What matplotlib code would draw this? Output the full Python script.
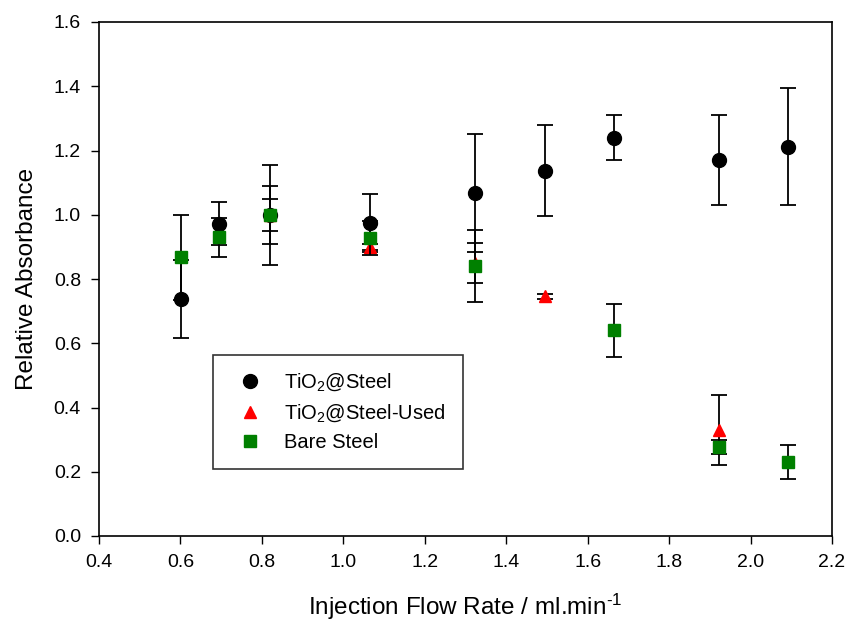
import matplotlib
matplotlib.use("Agg")
import matplotlib.pyplot as plt
from matplotlib.lines import Line2D
from matplotlib.ticker import FormatStrFormatter

plt.rcParams['font.family'] = ['Liberation Sans', 'DejaVu Sans']
plt.rcParams['mathtext.fontset'] = 'custom'
plt.rcParams['mathtext.rm'] = 'Liberation Sans'
plt.rcParams['mathtext.it'] = 'Liberation Sans'
plt.rcParams['mathtext.bf'] = 'Liberation Sans:bold'

# TiO2@Steel
x_tio2 = [0.601, 0.695, 0.820, 1.066, 1.324, 1.496, 1.665, 1.923, 2.093]
y_tio2 = [0.738, 0.972, 1.000, 0.975, 1.067, 1.137, 1.240, 1.171, 1.212]
e_tio2 = [0.121, 0.067, 0.155, 0.090, 0.183, 0.142, 0.070, 0.141, 0.181]

# TiO2@Steel-Used
x_used = [0.820, 1.066, 1.324, 1.496, 1.923]
y_used = [1.000, 0.900, 0.851, 0.746, 0.330]
e_used = [0.050, 0.010, 0.062, 0.007, 0.108]

# Bare Steel
x_bare = [0.601, 0.695, 0.820, 1.066, 1.324, 1.665, 1.923, 2.093]
y_bare = [0.868, 0.930, 1.000, 0.927, 0.840, 0.640, 0.278, 0.230]
e_bare = [0.132, 0.060, 0.090, 0.053, 0.111, 0.082, 0.022, 0.052]

series_labels = ['TiO$_2$@Steel', 'TiO$_2$@Steel-Used', 'Bare Steel']
x_ticks = [0.4, 0.6, 0.8, 1.0, 1.2, 1.4, 1.6, 1.8, 2.0, 2.2]
y_ticks = [0.0, 0.2, 0.4, 0.6, 0.8, 1.0, 1.2, 1.4, 1.6]

fig = plt.figure(figsize=(8.49, 6.25), dpi=100)
ax = fig.add_axes([0.1166, 0.1424, 0.8634, 0.8224])

err_kw = dict(ecolor='black', elinewidth=1.3, capsize=5.5, capthick=1.3, linestyle='none')
ax.errorbar(x_tio2, y_tio2, yerr=e_tio2, fmt='o', color='black', markersize=10, zorder=3, **err_kw)
ax.errorbar(x_used, y_used, yerr=e_used, fmt='^', color='red', markersize=9, zorder=4, **err_kw)
ax.errorbar(x_bare, y_bare, yerr=e_bare, fmt='s', color='green', markersize=8, zorder=5, **err_kw)

ax.set_xlim(x_ticks[0], x_ticks[-1])
ax.set_ylim(y_ticks[0], y_ticks[-1])
ax.set_xticks(x_ticks)
ax.set_yticks(y_ticks)
ax.xaxis.set_major_formatter(FormatStrFormatter('%.1f'))
ax.yaxis.set_major_formatter(FormatStrFormatter('%.1f'))
ax.tick_params(direction='out', length=6, width=1, labelsize=14, pad=7)
for s in ax.spines.values():
    s.set_linewidth(1.2)

ax.set_xlabel(r'Injection Flow Rate / ml.min$^{\text{-}1}$', fontsize=17.5, labelpad=15)
ax.set_ylabel('Relative Absorbance', fontsize=17.5, labelpad=11)

handles = [
    Line2D([], [], marker='o', color='black', linestyle='none', markersize=10),
    Line2D([], [], marker='^', color='red', linestyle='none', markersize=9),
    Line2D([], [], marker='s', color='green', linestyle='none', markersize=8),
]
leg = ax.legend(handles, series_labels, loc='lower left', bbox_to_anchor=(0.1555, 0.130),
                fontsize=14.5, frameon=True, fancybox=False, edgecolor='black',
                borderpad=0.85, labelspacing=0.45, handletextpad=0.7, borderaxespad=0)
leg.get_frame().set_linewidth(1.2)

fig.savefig('out.png', dpi=100)
